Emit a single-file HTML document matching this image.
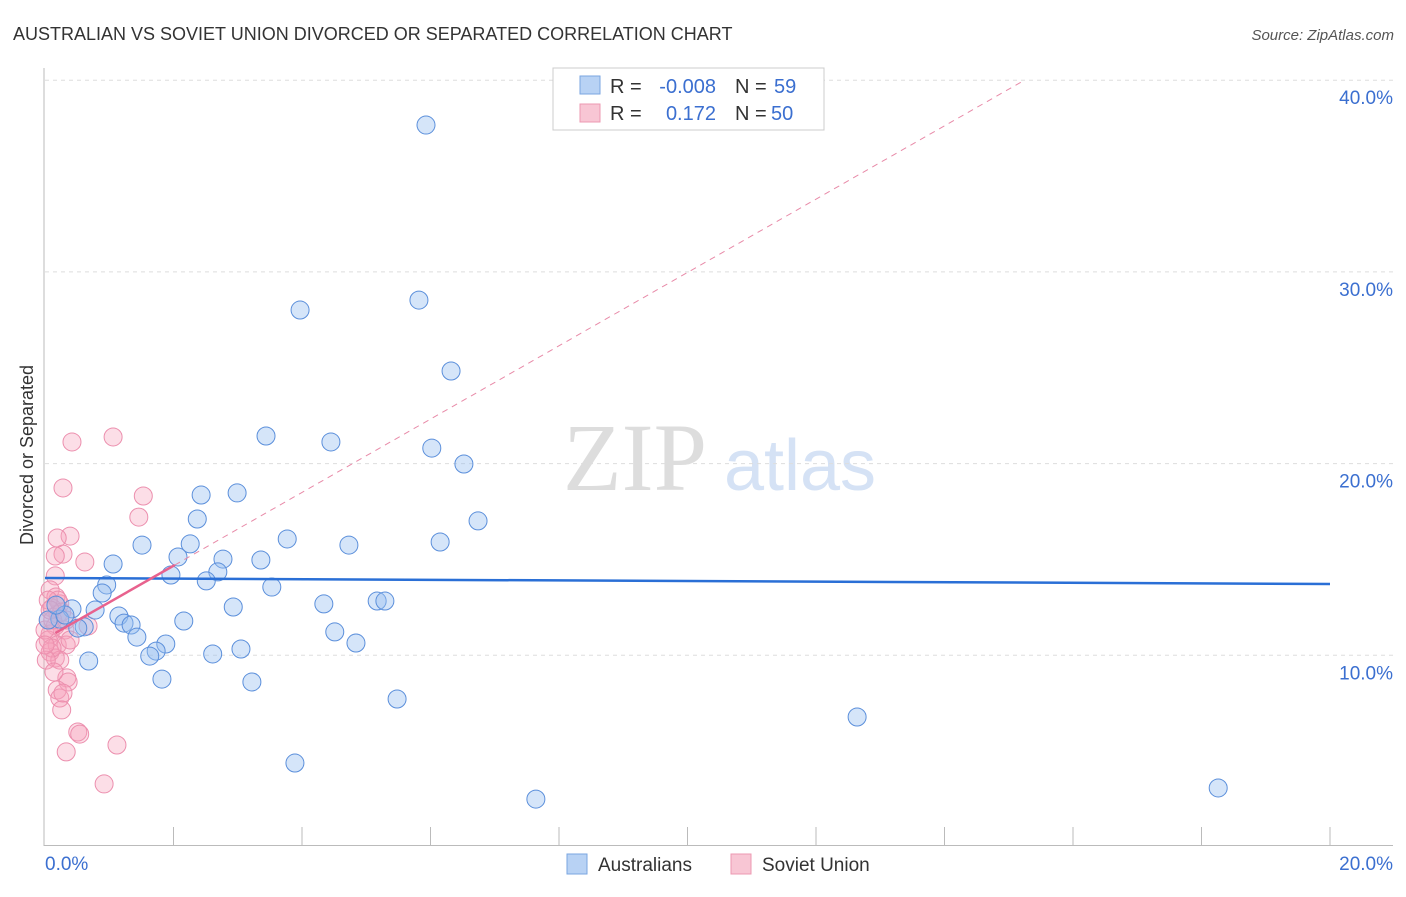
<!DOCTYPE html>
<html><head><meta charset="utf-8"><style>
body{margin:0;background:#fff;font-family:"Liberation Sans",sans-serif;}
</style></head><body>
<svg width="1406" height="892" xmlns="http://www.w3.org/2000/svg" id="chart">
<text x="13" y="40" font-size="18" fill="#333">AUSTRALIAN VS SOVIET UNION DIVORCED OR SEPARATED CORRELATION CHART</text>
<text x="1394" y="40" font-size="15" fill="#555" font-style="italic" text-anchor="end">Source: ZipAtlas.com</text>
<text x="635" y="490" font-size="96" fill="#ddd" font-family="Liberation Serif,serif" text-anchor="middle">ZIP</text>
<text x="800" y="490" font-size="72" fill="#d5e2f5" text-anchor="middle">atlas</text>
<g id="grid"></g>
<g id="axes"></g>
<g id="marks"></g>
<text transform="translate(33,455) rotate(-90)" font-size="18" fill="#333" text-anchor="middle">Divorced or Separated</text>
<g>
<rect x="553" y="68" width="271" height="62" fill="#fff" stroke="#ccc"/>
<rect x="580" y="76" width="20" height="18" fill="#b8d2f4" stroke="#7aa6e0"/>
<rect x="580" y="104" width="20" height="18" fill="#f8c6d4" stroke="#ec98b2"/>
<text x="610" y="93" font-size="20" fill="#333">R =</text><text x="716" y="93" font-size="20" fill="#3b6fd0" text-anchor="end">-0.008</text>
<text x="735" y="93" font-size="20" fill="#333">N =</text><text x="774" y="93" font-size="20" fill="#3b6fd0">59</text>
<text x="610" y="120" font-size="20" fill="#333">R =</text><text x="716" y="120" font-size="20" fill="#3b6fd0" text-anchor="end">0.172</text>
<text x="735" y="120" font-size="20" fill="#333">N =</text><text x="771" y="120" font-size="20" fill="#3b6fd0">50</text>
</g>
<g>
<rect x="567" y="854" width="20" height="20" fill="#b8d2f4" stroke="#7aa6e0"/>
<text x="598" y="871" font-size="19" fill="#333">Australians</text>
<rect x="731" y="854" width="20" height="20" fill="#f8c6d4" stroke="#ec98b2"/>
<text x="762" y="871" font-size="19" fill="#333">Soviet Union</text>
</g>
</svg>
<script>
const blueX=[5.93,5.82,3.97,6.32,3.44,4.45,6.02,6.52,2.99,2.43,6.74,2.37,1.51,2.26,3.77,4.73,6.15,2.07,2.77,3.36,1.06,1.96,2.69,2.51,0.96,3.53,0.89,2.93,4.34,5.17,5.29,0.42,0.78,1.15,2.16,1.23,1.34,0.23,0.61,4.51,1.43,1.88,4.84,1.73,1.63,2.61,3.05,0.68,1.82,3.22,5.48,12.64,3.89,7.64,18.26,0.05,0.31,0.51,0.17];
const blueY=[37.66,28.53,28.01,24.83,21.44,21.13,20.81,19.98,18.47,18.36,17.01,17.11,15.75,15.81,16.07,15.75,15.91,15.13,15.02,14.97,14.76,14.19,14.35,13.88,13.67,13.56,13.25,12.52,12.68,12.83,12.83,12.42,12.36,12.05,11.79,11.68,11.58,11.89,11.48,11.22,10.95,10.59,10.64,10.22,9.96,10.07,10.33,9.70,8.76,8.61,7.72,6.78,4.38,2.50,3.08,11.84,12.10,11.42,12.62];
const pinkX=[0.42,1.06,0.28,1.53,1.46,0.39,0.19,0.28,0.62,0.16,0.16,0.08,0.17,0.23,0.11,0.20,0.05,0.16,0.31,0.67,0.08,0.05,0.19,0.33,0.08,0.16,0.23,0.34,0.36,0.19,0.23,0.28,0.26,0.51,0.54,0.33,1.12,0.92,0.11,0.00,0.20,0.26,0.05,0.39,0.02,0.14,0.0,0.12,0.33,0.08];
const pinkY=[21.13,21.39,18.73,18.31,17.21,16.22,16.12,15.28,14.87,15.18,14.14,13.41,13.04,12.68,12.47,12.15,11.84,11.53,11.32,11.53,11.11,10.80,10.54,10.54,10.17,9.86,9.75,8.82,8.61,8.19,7.77,8.03,7.15,6.00,5.89,4.96,5.32,3.29,10.38,11.32,12.88,12.26,12.88,10.80,9.75,9.13,10.54,11.84,11.84,12.36];
const blueTrend=[[0,14.03],[20,13.72]];
const pinkSolid=[[0.16,11.16],[2.02,14.71]];
const pinkDash=[[2.02,14.71],[15.25,40.01]];
const yTicks=[10,20,30,40];
const NS="http://www.w3.org/2000/svg";
const sx=v=>45+v*(1285/20);
const sy=v=>847-v*19.17;
function mk(tag,attrs,parent){const e=document.createElementNS(NS,tag);for(const k in attrs)e.setAttribute(k,attrs[k]);parent.appendChild(e);return e;}
const grid=document.getElementById('grid'),axes=document.getElementById('axes'),marks=document.getElementById('marks');
yTicks.forEach(t=>{
 const l=mk('line',{x1:45,x2:1393,y1:sy(t),y2:sy(t),stroke:'#ddd','stroke-dasharray':'4,4'},grid);
 
 
 const tx=mk('text',{x:1393,y:sy(t)+24,'font-size':19,fill:'#3b6fd0','text-anchor':'end'},axes);
 tx.textContent=t.toFixed(1)+'%';
 
 
});
let a=mk('line',{x1:44,x2:44,y1:68,y2:846,stroke:'#bbb'},axes);


a=mk('line',{x1:44,x2:1393,y1:845.5,y2:845.5,stroke:'#bbb'},axes);


for(let i=1;i<=10;i++){const t=mk('line',{x1:sx(i*2),x2:sx(i*2),y1:827,y2:845,stroke:'#bbb'},axes);
 
 }
let xl=mk('text',{x:45,y:870,'font-size':19,fill:'#3b6fd0'},axes);xl.textContent='0.0%';


xl=mk('text',{x:1393,y:870,'font-size':19,fill:'#3b6fd0','text-anchor':'end'},axes);xl.textContent='20.0%';


pinkX.forEach((x,i)=>{const c=mk('circle',{cx:sx(x),cy:sy(pinkY[i]),r:9,fill:'rgba(245,160,185,0.35)',stroke:'#ec8fae','stroke-width':1},marks);
 
 });
blueX.forEach((x,i)=>{const c=mk('circle',{cx:sx(x),cy:sy(blueY[i]),r:9,fill:'rgba(150,190,240,0.4)',stroke:'#5b8fdb','stroke-width':1},marks);
 
 });
let ln=mk('line',{x1:sx(blueTrend[0][0]),y1:sy(blueTrend[0][1]),x2:sx(blueTrend[1][0]),y2:sy(blueTrend[1][1]),stroke:'#2a6fd6','stroke-width':2.5},marks);


ln=mk('line',{x1:sx(pinkDash[0][0]),y1:sy(pinkDash[0][1]),x2:sx(pinkDash[1][0]),y2:sy(pinkDash[1][1]),stroke:'#e88aa8','stroke-width':1,'stroke-dasharray':'6,5'},marks);


ln=mk('line',{x1:sx(pinkSolid[0][0]),y1:sy(pinkSolid[0][1]),x2:sx(pinkSolid[1][0]),y2:sy(pinkSolid[1][1]),stroke:'#e8628e','stroke-width':2.5},marks);


</script>
</body></html>
